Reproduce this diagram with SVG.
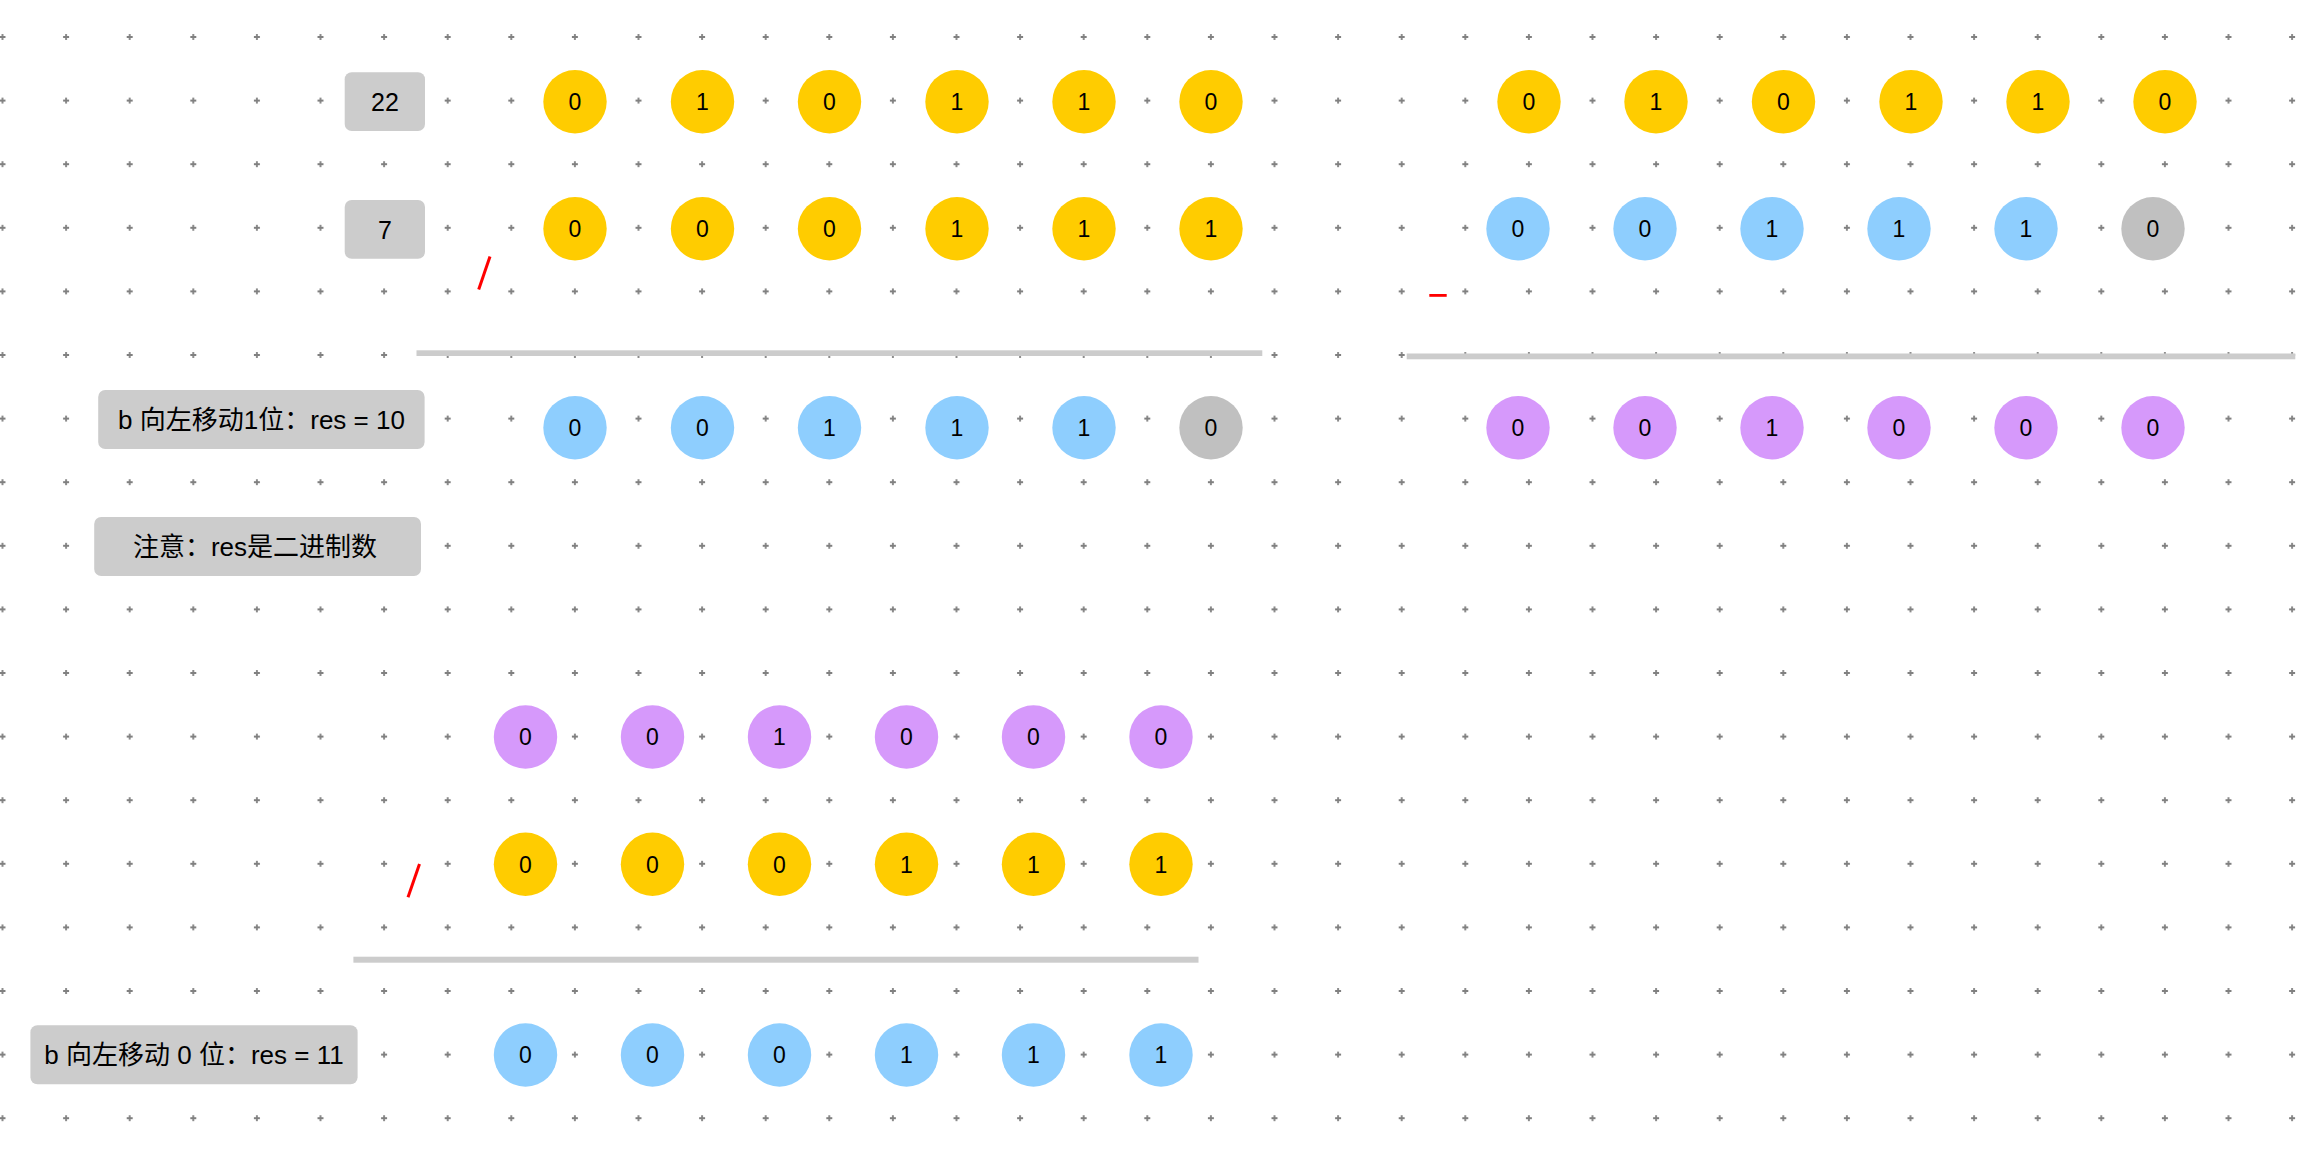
<svg xmlns="http://www.w3.org/2000/svg" width="2314" height="1152" viewBox="0 0 2314 1152">
<style>
text{font-family:"Liberation Sans","Noto Sans CJK SC",sans-serif;fill:#000;text-anchor:middle;dominant-baseline:central}
.y{fill:#ffcc00}.b{fill:#8ecefe}.g{fill:#c0c0c0}.p{fill:#d699fb}
.box{fill:#cccccc}
.d{font-size:23px}.n{font-size:25px}.t{font-size:26px}
.bar{fill:#cccccc}
.red{stroke:#ff0000;stroke-width:3;fill:none}
</style>
<defs>
<pattern id="grid" x="-29.3" y="5.2" width="63.6" height="63.6" patternUnits="userSpaceOnUse">
<path d="M28.8 31.8h6M31.8 28.8v6" stroke="#808080" stroke-width="1.8" fill="none"/>
</pattern>
<circle id="c" r="31.7"/>
</defs>
<rect width="2314" height="1152" fill="#ffffff"/>
<rect width="2314" height="1152" fill="url(#grid)"/>

<g id="shapes">
<rect x="416.5" y="350.3" width="845.8" height="5.7" class="bar"/>
<rect x="1406.7" y="353.5" width="888.6" height="5.8" class="bar"/>
<rect x="353.4" y="956.7" width="845.1" height="6" class="bar"/>
<line x1="490" y1="256.5" x2="478.7" y2="289.5" class="red"/>
<rect x="1429.3" y="294" width="17.4" height="2.8" fill="#ff0000"/>
<line x1="419.5" y1="864" x2="408" y2="897.3" class="red"/>
</g>
<g id="connectors"/>

<g id="box-22"><rect x="344.7" y="72.3" width="80.3" height="58.7" rx="7" class="box"/><text x="385" y="102" class="n">22</text></g>
<g id="box-7"><rect x="344.7" y="200" width="80.3" height="58.7" rx="7" class="box"/><text x="385" y="229.5" class="n">7</text></g>
<g id="box-shift1"><rect x="98.2" y="390" width="326.4" height="59" rx="7" class="box"/><text x="261.5" y="419.5" class="t">b 向左移动1位：res = 10</text></g>
<g id="box-note"><rect x="94.2" y="517" width="326.8" height="59" rx="7" class="box"/><text x="255" y="546.5" class="t">注意：res是二进制数</text></g>
<g id="box-shift0"><rect x="30.4" y="1025.3" width="327.2" height="59" rx="7" class="box"/><text x="194" y="1055" class="t">b 向左移动 0 位：res = 11</text></g>

<g id="a-row1">
<g id="a1-0"><use href="#c" x="575" y="101.7" class="y"/><text x="575" y="102" class="d">0</text></g>
<g id="a1-1"><use href="#c" x="702.5" y="101.7" class="y"/><text x="702.5" y="102" class="d">1</text></g>
<g id="a1-2"><use href="#c" x="829.5" y="101.7" class="y"/><text x="829.5" y="102" class="d">0</text></g>
<g id="a1-3"><use href="#c" x="957" y="101.7" class="y"/><text x="957" y="102" class="d">1</text></g>
<g id="a1-4"><use href="#c" x="1084" y="101.7" class="y"/><text x="1084" y="102" class="d">1</text></g>
<g id="a1-5"><use href="#c" x="1211" y="101.7" class="y"/><text x="1211" y="102" class="d">0</text></g>
</g>
<g id="b-row1">
<g id="b1-0"><use href="#c" x="575" y="228.7" class="y"/><text x="575" y="229" class="d">0</text></g>
<g id="b1-1"><use href="#c" x="702.5" y="228.7" class="y"/><text x="702.5" y="229" class="d">0</text></g>
<g id="b1-2"><use href="#c" x="829.5" y="228.7" class="y"/><text x="829.5" y="229" class="d">0</text></g>
<g id="b1-3"><use href="#c" x="957" y="228.7" class="y"/><text x="957" y="229" class="d">1</text></g>
<g id="b1-4"><use href="#c" x="1084" y="228.7" class="y"/><text x="1084" y="229" class="d">1</text></g>
<g id="b1-5"><use href="#c" x="1211" y="228.7" class="y"/><text x="1211" y="229" class="d">1</text></g>
</g>
<g id="s-row1">
<g id="s1-0"><use href="#c" x="575" y="427.7" class="b"/><text x="575" y="428" class="d">0</text></g>
<g id="s1-1"><use href="#c" x="702.5" y="427.7" class="b"/><text x="702.5" y="428" class="d">0</text></g>
<g id="s1-2"><use href="#c" x="829.5" y="427.7" class="b"/><text x="829.5" y="428" class="d">1</text></g>
<g id="s1-3"><use href="#c" x="957" y="427.7" class="b"/><text x="957" y="428" class="d">1</text></g>
<g id="s1-4"><use href="#c" x="1084" y="427.7" class="b"/><text x="1084" y="428" class="d">1</text></g>
<g id="s1-5"><use href="#c" x="1211" y="427.7" class="g"/><text x="1211" y="428" class="d">0</text></g>
</g>

<g id="a-row2">
<g id="a2-0"><use href="#c" x="1529" y="101.7" class="y"/><text x="1529" y="102" class="d">0</text></g>
<g id="a2-1"><use href="#c" x="1656" y="101.7" class="y"/><text x="1656" y="102" class="d">1</text></g>
<g id="a2-2"><use href="#c" x="1783.5" y="101.7" class="y"/><text x="1783.5" y="102" class="d">0</text></g>
<g id="a2-3"><use href="#c" x="1911" y="101.7" class="y"/><text x="1911" y="102" class="d">1</text></g>
<g id="a2-4"><use href="#c" x="2038" y="101.7" class="y"/><text x="2038" y="102" class="d">1</text></g>
<g id="a2-5"><use href="#c" x="2165" y="101.7" class="y"/><text x="2165" y="102" class="d">0</text></g>
</g>
<g id="s-row2">
<g id="s2-0"><use href="#c" x="1518" y="228.7" class="b"/><text x="1518" y="229" class="d">0</text></g>
<g id="s2-1"><use href="#c" x="1645" y="228.7" class="b"/><text x="1645" y="229" class="d">0</text></g>
<g id="s2-2"><use href="#c" x="1772" y="228.7" class="b"/><text x="1772" y="229" class="d">1</text></g>
<g id="s2-3"><use href="#c" x="1899" y="228.7" class="b"/><text x="1899" y="229" class="d">1</text></g>
<g id="s2-4"><use href="#c" x="2026" y="228.7" class="b"/><text x="2026" y="229" class="d">1</text></g>
<g id="s2-5"><use href="#c" x="2153" y="228.7" class="g"/><text x="2153" y="229" class="d">0</text></g>
</g>
<g id="r-row2">
<g id="r2-0"><use href="#c" x="1518" y="427.7" class="p"/><text x="1518" y="428" class="d">0</text></g>
<g id="r2-1"><use href="#c" x="1645" y="427.7" class="p"/><text x="1645" y="428" class="d">0</text></g>
<g id="r2-2"><use href="#c" x="1772" y="427.7" class="p"/><text x="1772" y="428" class="d">1</text></g>
<g id="r2-3"><use href="#c" x="1899" y="427.7" class="p"/><text x="1899" y="428" class="d">0</text></g>
<g id="r2-4"><use href="#c" x="2026" y="427.7" class="p"/><text x="2026" y="428" class="d">0</text></g>
<g id="r2-5"><use href="#c" x="2153" y="427.7" class="p"/><text x="2153" y="428" class="d">0</text></g>
</g>

<g id="r-row3">
<g id="r3-0"><use href="#c" x="525.5" y="737" class="p"/><text x="525.5" y="737.3" class="d">0</text></g>
<g id="r3-1"><use href="#c" x="652.5" y="737" class="p"/><text x="652.5" y="737.3" class="d">0</text></g>
<g id="r3-2"><use href="#c" x="779.5" y="737" class="p"/><text x="779.5" y="737.3" class="d">1</text></g>
<g id="r3-3"><use href="#c" x="906.5" y="737" class="p"/><text x="906.5" y="737.3" class="d">0</text></g>
<g id="r3-4"><use href="#c" x="1033.5" y="737" class="p"/><text x="1033.5" y="737.3" class="d">0</text></g>
<g id="r3-5"><use href="#c" x="1161" y="737" class="p"/><text x="1161" y="737.3" class="d">0</text></g>
</g>
<g id="b-row3">
<g id="b3-0"><use href="#c" x="525.5" y="864.3" class="y"/><text x="525.5" y="864.6" class="d">0</text></g>
<g id="b3-1"><use href="#c" x="652.5" y="864.3" class="y"/><text x="652.5" y="864.6" class="d">0</text></g>
<g id="b3-2"><use href="#c" x="779.5" y="864.3" class="y"/><text x="779.5" y="864.6" class="d">0</text></g>
<g id="b3-3"><use href="#c" x="906.5" y="864.3" class="y"/><text x="906.5" y="864.6" class="d">1</text></g>
<g id="b3-4"><use href="#c" x="1033.5" y="864.3" class="y"/><text x="1033.5" y="864.6" class="d">1</text></g>
<g id="b3-5"><use href="#c" x="1161" y="864.3" class="y"/><text x="1161" y="864.6" class="d">1</text></g>
</g>
<g id="s-row3">
<g id="s3-0"><use href="#c" x="525.5" y="1055" class="b"/><text x="525.5" y="1055.3" class="d">0</text></g>
<g id="s3-1"><use href="#c" x="652.5" y="1055" class="b"/><text x="652.5" y="1055.3" class="d">0</text></g>
<g id="s3-2"><use href="#c" x="779.5" y="1055" class="b"/><text x="779.5" y="1055.3" class="d">0</text></g>
<g id="s3-3"><use href="#c" x="906.5" y="1055" class="b"/><text x="906.5" y="1055.3" class="d">1</text></g>
<g id="s3-4"><use href="#c" x="1033.5" y="1055" class="b"/><text x="1033.5" y="1055.3" class="d">1</text></g>
<g id="s3-5"><use href="#c" x="1161" y="1055" class="b"/><text x="1161" y="1055.3" class="d">1</text></g>
</g>
</svg>
